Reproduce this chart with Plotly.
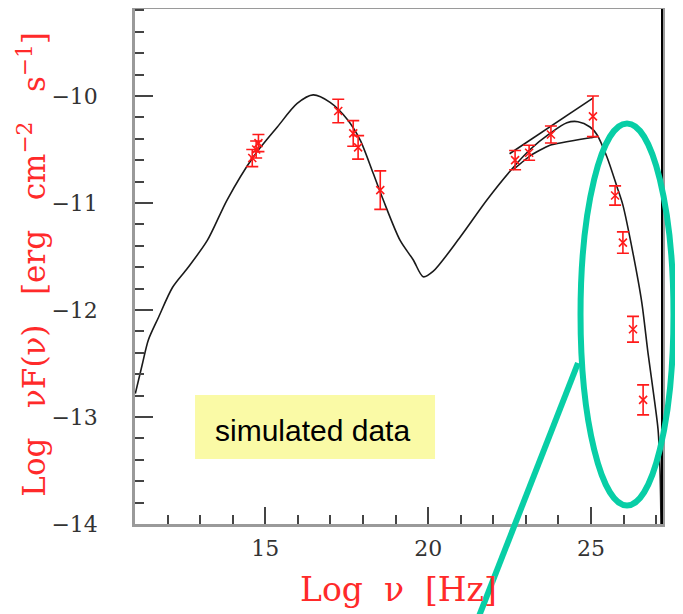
import plotly.graph_objects as go

# ---- data ----
pt_x = [14.60, 14.72, 14.79, 17.24, 17.70, 17.85, 18.53, 22.67, 23.10, 23.77, 25.06, 25.74, 25.98, 26.29, 26.60]
pt_y = [-10.58, -10.50, -10.44, -10.14, -10.35, -10.48, -10.88, -10.60, -10.53, -10.36, -10.19, -10.93, -11.37, -12.18, -12.84]
pt_err = [0.08, 0.08, 0.08, 0.11, 0.12, 0.11, 0.18, 0.09, 0.07, 0.08, 0.19, 0.09, 0.10, 0.12, 0.14]

model_x = [11.01, 11.23, 11.41, 11.72, 12.15, 12.61, 13.22, 13.83, 14.63, 15.37, 15.98, 16.47,
           16.99, 17.52, 17.91, 18.31, 18.62, 19.14, 19.54, 19.85, 20.15, 20.98, 21.81, 22.58, 23.13,
           23.74, 24.26, 24.60, 24.97, 25.18, 25.49, 25.80, 25.98, 26.29, 26.56, 26.75, 26.96, 27.06,
           27.12, 27.15]
model_y = [-12.78, -12.50, -12.28, -12.07, -11.79, -11.61, -11.35, -10.97, -10.57, -10.29, -10.07, -9.99,
           -10.06, -10.22, -10.41, -10.72, -10.97, -11.35, -11.53, -11.69, -11.64, -11.32, -10.97, -10.68, -10.50,
           -10.35, -10.25, -10.24, -10.29, -10.36, -10.57, -10.85, -11.02, -11.47, -11.93, -12.40, -12.87, -13.12,
           -13.50, -14.00]

upper_x = [22.50, 25.06]
upper_y = [-10.54, -10.02]

lower_x = [22.61, 23.13, 23.74, 24.97, 25.18]
lower_y = [-10.69, -10.56, -10.46, -10.39, -10.38]

x_ticks = [15, 20, 25]
y_ticks = [-14, -13, -12, -11, -10]

# ---- figure ----
fig = go.Figure()
line_style = dict(color="#1a1a1a", width=1.6)
fig.add_trace(go.Scatter(x=model_x, y=model_y, mode="lines", line=dict(shape="spline", smoothing=0.8, **line_style),
                         hoverinfo="skip", showlegend=False))
fig.add_trace(go.Scatter(x=upper_x, y=upper_y, mode="lines", line=line_style, showlegend=False))
fig.add_trace(go.Scatter(x=lower_x, y=lower_y, mode="lines", line=dict(shape="spline", smoothing=0.5, **line_style),
                         showlegend=False))
fig.add_trace(go.Scatter(
    x=pt_x, y=pt_y, mode="markers", showlegend=False,
    marker=dict(symbol="x-thin", size=8, line=dict(color="#ff1a1a", width=1.6)),
    error_y=dict(type="data", array=pt_err, color="#ff1a1a", thickness=1.6, width=6),
))

tick_font = dict(family="DejaVu Serif, Liberation Serif, serif", size=22, color="#333333")
fig.update_xaxes(
    range=[11.0, 27.18], tickvals=x_ticks, ticktext=[str(v) for v in x_ticks],
    ticks="inside", ticklen=17, tickwidth=1.5, tickcolor="#444444",
    minor=dict(dtick=1, tick0=0, ticks="inside", ticklen=9, tickwidth=1.5, tickcolor="#444444", showgrid=False),
    showgrid=False, zeroline=False, showline=True, linecolor="#9a9a9a", linewidth=2.5, mirror=True,
    tickfont=tick_font, ticklabelstandoff=3,
)
fig.update_yaxes(
    range=[-14.0, -9.187], tickvals=y_ticks, ticktext=["\u2212" + str(-v) for v in y_ticks],
    ticks="inside", ticklen=18, tickwidth=1.5, tickcolor="#444444",
    minor=dict(dtick=0.2, tick0=0, ticks="inside", ticklen=9, tickwidth=1.5, tickcolor="#444444", showgrid=False),
    showgrid=False, zeroline=False, showline=True, linecolor="#9a9a9a", linewidth=2.5, mirror=True,
    tickfont=tick_font, ticklabelstandoff=30,
)

title_font = dict(family="DejaVu Serif, Liberation Serif, serif", size=31, color="#ff2a2a")
annotations = [
    dict(text="Log&nbsp;&nbsp;\u03bd&nbsp;&nbsp;[Hz]", xref="paper", yref="paper", x=0.5, y=-0.128,
         xanchor="center", yanchor="middle", showarrow=False,
         font=dict(family="DejaVu Serif, Liberation Serif, serif", size=33, color="#ff2a2a")),
    dict(text="Log&nbsp;&nbsp;&nbsp;\u03bdF(\u03bd)&nbsp;&nbsp;&nbsp;[erg&nbsp;&nbsp;&nbsp;cm<sup>\u22122</sup>&nbsp;&nbsp;&nbsp;s<sup>\u22121</sup>]",
         xref="paper", yref="paper", x=-0.196, y=0.505, textangle=-90,
         xanchor="center", yanchor="middle", showarrow=False, font=title_font),
    dict(text="simulated data", xref="paper", yref="paper", x=0.336, y=0.1825,
         xanchor="center", yanchor="middle", showarrow=False,
         font=dict(family="Liberation Sans, Arial, sans-serif", size=30, color="#000000")),
]

shapes = [
    dict(type="rect", xref="paper", yref="paper", x0=0.1139, x1=0.5693, y0=0.1262, y1=0.2505,
         fillcolor="#fafaa6", line=dict(width=0), layer="below"),
    dict(type="line", xref="paper", yref="paper", x0=1.0, x1=1.0, y0=0, y1=1,
         line=dict(color="#000000", width=2)),
    dict(type="circle", xref="paper", yref="paper", x0=0.8454, x1=1.0218, y0=0.0359, y1=0.7777,
         line=dict(color="#08cea6", width=6)),
    dict(type="line", xref="paper", yref="paper", x0=0.8406, y0=0.3126, x1=0.647, y1=-0.194,
         line=dict(color="#08cea6", width=6)),
]

# the page body adds an 8px offset, so the figure is 8px smaller and the margins shifted
fig.update_layout(
    width=675, height=606,
    margin=dict(l=127, r=21, t=1, b=90, autoexpand=False),
    paper_bgcolor="white", plot_bgcolor="white",
    annotations=annotations, shapes=shapes,
)

fig.write_html("out.html")
